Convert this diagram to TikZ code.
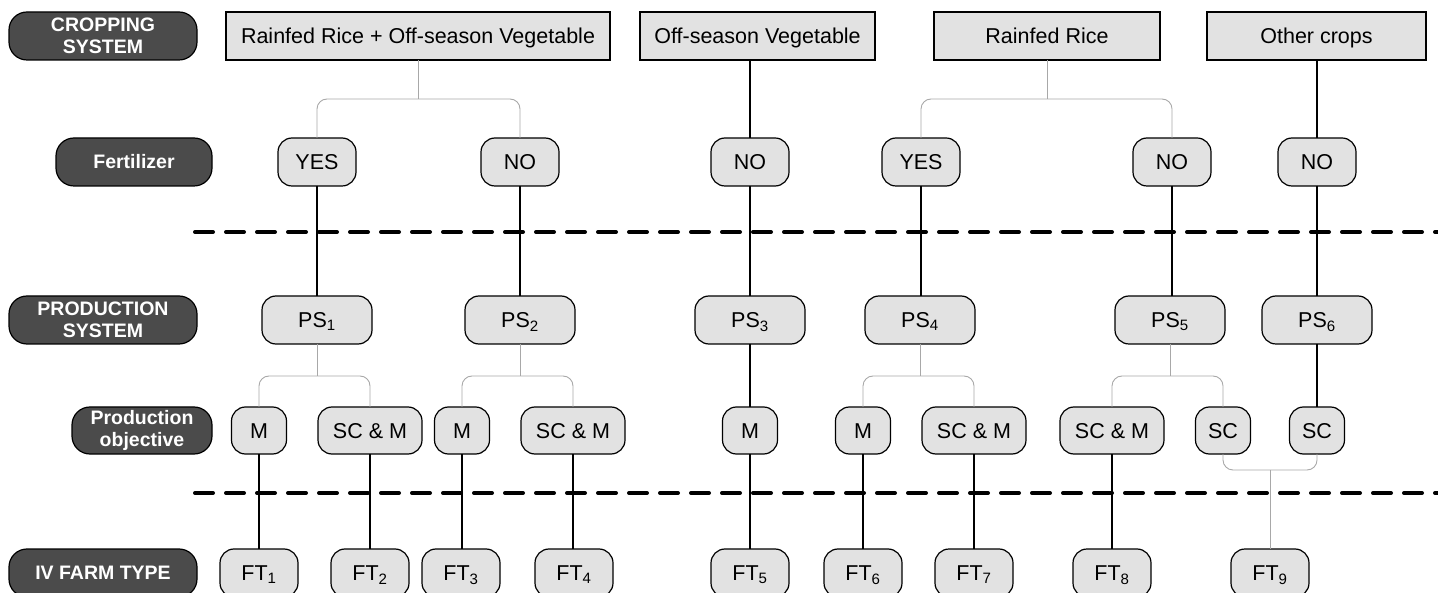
\documentclass[tikz,border=0pt]{standalone}
\usepackage{fontspec}
\setmainfont{Liberation Sans}
\begin{document}
\begin{tikzpicture}[x=1pt,y=-1pt,
  every node/.style={inner sep=0pt, outer sep=0pt, align=center},
  crop/.style={draw=black, line width=1.2pt, fill=boxgray, minimum height=48pt, text height=18pt, text depth=2.6pt, font=\fontsize{21.5}{25}\selectfont},
  pill/.style={draw=black, line width=1.2pt, fill=boxgray, rounded corners=14pt, minimum height=48pt, text height=18pt, text depth=2.6pt, font=\fontsize{21.5}{25}\selectfont},
  lab/.style={draw=black, line width=1.2pt, fill=darkgray2, rounded corners=18pt, minimum height=48pt, text=white, font=\fontsize{19.5}{22}\selectfont\bfseries},
  link/.style={line width=1.4pt, black},
  branch/.style={line width=0.9pt, color=linegray, rounded corners=10pt},
  stem/.style={line width=0.9pt, color=linegray},
  dashline/.style={line width=4pt, line cap=round, dash pattern=on 18pt off 13pt}
]
\definecolor{boxgray}{HTML}{E2E2E2}
\definecolor{darkgray2}{HTML}{4B4B4B}
\definecolor{linegray}{HTML}{A8A8A8}
\useasboundingbox (0,0) rectangle (1438,593);
\clip (0,0) rectangle (1438,593);

% dashed separators
\draw[dashline] (195,232) -- (1438,232);
\draw[dashline] (195,493) -- (1438,493);

% row labels
\node[lab, minimum width=188pt] (L1) at (103,36) {CROPPING\\SYSTEM};
\node[lab, minimum width=156pt] (L2) at (134,162) {Fertilizer};
\node[lab, minimum width=188pt] (L3) at (103,320) {PRODUCTION\\SYSTEM};
\node[lab, minimum width=140pt, minimum height=47pt] (L4) at (142,430.5) {Production\\objective};
\node[lab, minimum width=188pt] (L5) at (103,573) {IV FARM TYPE};

% cropping systems
\node[crop, minimum width=384pt] (c1) at (418,36) {Rainfed Rice + Off-season Vegetable};
\node[crop, minimum width=235pt] (c2) at (757.5,36) {Off-season Vegetable};
\node[crop, minimum width=226pt] (c3) at (1047,36) {Rainfed Rice};
\node[crop, minimum width=219pt] (c4) at (1316.5,36) {Other crops};

% fertilizer
\node[pill, minimum width=78pt] (f1) at (317,162) {YES};
\node[pill, minimum width=78pt] (f2) at (520,162) {NO};
\node[pill, minimum width=78pt] (f3) at (750,162) {NO};
\node[pill, minimum width=78pt] (f4) at (921,162) {YES};
\node[pill, minimum width=78pt] (f5) at (1172,162) {NO};
\node[pill, minimum width=78pt] (f6) at (1317,162) {NO};

% production systems
\node[pill, minimum width=110pt] (p1) at (317,320) {PS\textsubscript{1}};
\node[pill, minimum width=110pt] (p2) at (520,320) {PS\textsubscript{2}};
\node[pill, minimum width=110pt] (p3) at (750,320) {PS\textsubscript{3}};
\node[pill, minimum width=110pt] (p4) at (920,320) {PS\textsubscript{4}};
\node[pill, minimum width=110pt] (p5) at (1170,320) {PS\textsubscript{5}};
\node[pill, minimum width=110pt] (p6) at (1317,320) {PS\textsubscript{6}};

% production objectives
\node[pill, minimum width=55pt, minimum height=47pt] (o1) at (259,430.5) {M};
\node[pill, minimum width=104pt, minimum height=47pt] (o2) at (370,430.5) {SC \& M};
\node[pill, minimum width=55pt, minimum height=47pt] (o3) at (462,430.5) {M};
\node[pill, minimum width=104pt, minimum height=47pt] (o4) at (573,430.5) {SC \& M};
\node[pill, minimum width=55pt, minimum height=47pt] (o5) at (750,430.5) {M};
\node[pill, minimum width=55pt, minimum height=47pt] (o6) at (863,430.5) {M};
\node[pill, minimum width=104pt, minimum height=47pt] (o7) at (974,430.5) {SC \& M};
\node[pill, minimum width=104pt, minimum height=47pt] (o8) at (1112,430.5) {SC \& M};
\node[pill, minimum width=55pt, minimum height=47pt] (o9) at (1223,430.5) {SC};
\node[pill, minimum width=55pt, minimum height=47pt] (o10) at (1317,430.5) {SC};

% farm types
\node[pill, minimum width=78pt] (t1) at (259,573) {FT\textsubscript{1}};
\node[pill, minimum width=78pt] (t2) at (370,573) {FT\textsubscript{2}};
\node[pill, minimum width=78pt] (t3) at (461,573) {FT\textsubscript{3}};
\node[pill, minimum width=78pt] (t4) at (574,573) {FT\textsubscript{4}};
\node[pill, minimum width=78pt] (t5) at (750,573) {FT\textsubscript{5}};
\node[pill, minimum width=78pt] (t6) at (863,573) {FT\textsubscript{6}};
\node[pill, minimum width=78pt] (t7) at (974,573) {FT\textsubscript{7}};
\node[pill, minimum width=78pt] (t8) at (1112,573) {FT\textsubscript{8}};
\node[pill, minimum width=78pt] (t9) at (1270,573) {FT\textsubscript{9}};

% junction points
\coordinate (j1) at (418,99);
\coordinate (j3) at (1047,99);
\coordinate (k1) at (317,376);
\coordinate (k2) at (520,376);
\coordinate (k4) at (920,376);
\coordinate (k5) at (1170,376);
\coordinate (m9) at (1270,470);

% cropping -> fertilizer
\draw[stem] (c1.south) -- (j1);
\draw[branch] (f1.north) |- (j1) -| (f2.north);
\draw[link] (f3 |- c2.south) -- (f3.north);
\draw[stem] (c3.south) -- (j3);
\draw[branch] (f4.north) |- (j3) -| (f5.north);
\draw[link] (f6 |- c4.south) -- (f6.north);

% fertilizer -> production system
\draw[link] (f1.south) -- (p1.north);
\draw[link] (f2.south) -- (p2.north);
\draw[link] (f3.south) -- (p3.north);
\draw[link] (f4.south) -- (f4 |- p4.north);
\draw[link] (f5.south) -- (f5 |- p5.north);
\draw[link] (f6.south) -- (p6.north);

% production system -> objective
\draw[stem] (p1.south) -- (k1);
\draw[branch] (o1.north) |- (k1) -| (o2.north);
\draw[stem] (p2.south) -- (k2);
\draw[branch] (o3.north) |- (k2) -| (o4.north);
\draw[link] (p3.south) -- (o5.north);
\draw[stem] (p4.south) -- (k4);
\draw[branch] (o6.north) |- (k4) -| (o7.north);
\draw[stem] (p5.south) -- (k5);
\draw[branch] (o8.north) |- (k5) -| (o9.north);
\draw[link] (p6.south) -- (o10.north);

% objective -> farm type
\draw[link] (o1.south) -- (t1.north);
\draw[link] (o2.south) -- (t2.north);
\draw[link] (o3.south) -- (o3 |- t3.north);
\draw[link] (o4.south) -- (o4 |- t4.north);
\draw[link] (o5.south) -- (t5.north);
\draw[link] (o6.south) -- (t6.north);
\draw[link] (o7.south) -- (t7.north);
\draw[link] (o8.south) -- (t8.north);
\draw[branch] (o9.south) |- (m9) -| (o10.south);
\draw[stem] (m9) -- (t9.north);
\end{tikzpicture}
\end{document}
